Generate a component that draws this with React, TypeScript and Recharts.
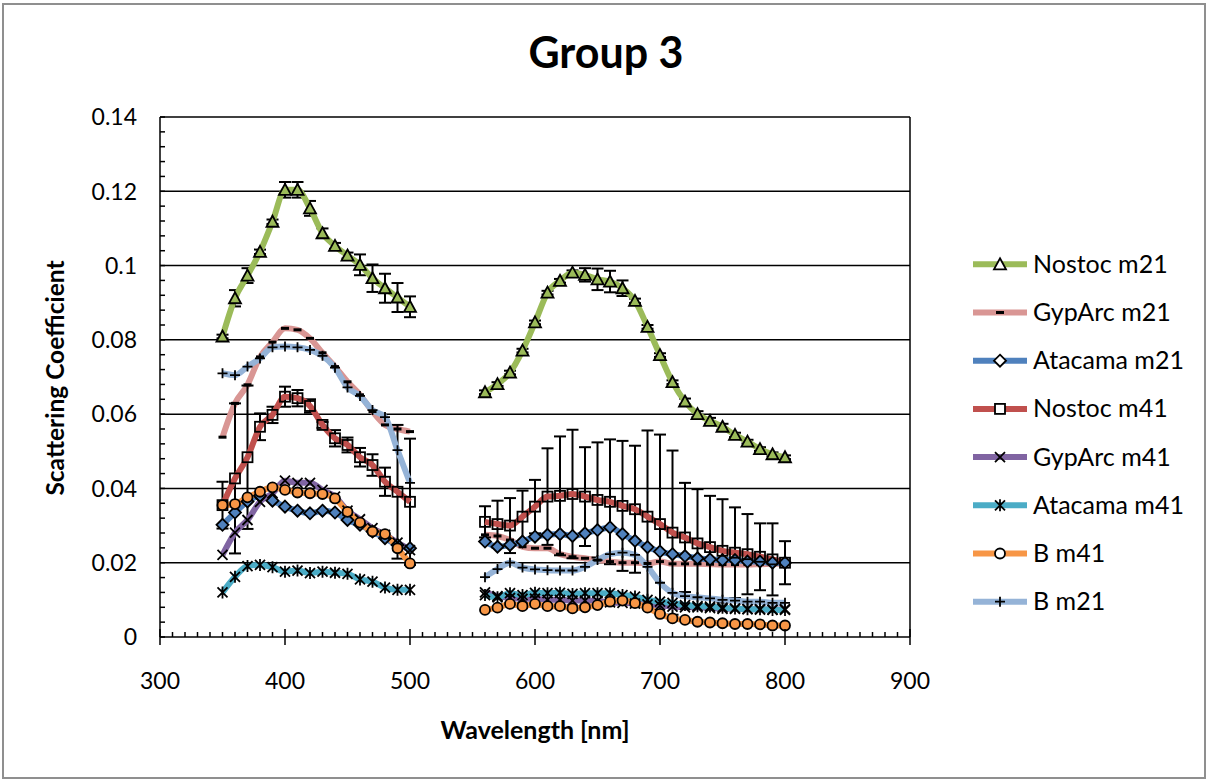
import React from "react";
import { LineChart, Line, XAxis, YAxis, ReferenceLine, ErrorBar } from "recharts";

// wavelengths [nm]; 510-550 have no measurements (gap in the chart)
const wavelengths = [
  350, 360, 370, 380, 390, 400, 410, 420, 430, 440, 450, 460, 470, 480, 490, 500,
  510, 520, 530, 540, 550,
  560, 570, 580, 590, 600, 610, 620, 630, 640, 650, 660, 670, 680, 690, 700,
  710, 720, 730, 740, 750, 760, 770, 780, 790, 800,
];
const GAP = [null, null, null, null, null];

const nostocM21 = [
  0.0809, 0.0912, 0.0973, 0.1037, 0.1118, 0.1204, 0.1204, 0.1154, 0.1087, 0.1053, 0.1027, 0.1002, 0.0966, 0.0939, 0.0914, 0.0889,
  ...GAP,
  0.0659, 0.0681, 0.0712, 0.0771, 0.0847, 0.0927, 0.0959, 0.0981, 0.0975, 0.0963, 0.0957, 0.0939, 0.0905, 0.0835, 0.0759,
  0.0686, 0.0634, 0.06, 0.0582, 0.0566, 0.0544, 0.0526, 0.0506, 0.0492, 0.0484,
];
const nostocM21Err = [
  0.0005, 0.0022, 0.002, 0.0006, 0.0006, 0.0021, 0.0021, 0.002, 0.0013, 0.0008, 0.0008, 0.0028, 0.0037, 0.0039, 0.0039, 0.0028,
  ...GAP,
  0.0005, 0.0005, 0.0005, 0.0005, 0.0005, 0.0005, 0.0005, 0.0006, 0.0018, 0.0029, 0.0029, 0.0021, 0.0006, 0.0005, 0.0005,
  0.0005, 0.0008, 0.0008, 0.0008, 0.0008, 0.0006, 0.0005, 0.0005, 0.0005, 0.0005,
];
const gypArcM21 = [
  0.0538, 0.0629, 0.0679, 0.0754, 0.0794, 0.0831, 0.0827, 0.0804, 0.0765, 0.0728, 0.0687, 0.0652, 0.0607, 0.0571, 0.056, 0.0553,
  ...GAP,
  0.0275, 0.0272, 0.0261, 0.0243, 0.0239, 0.0239, 0.0223, 0.0216, 0.0212, 0.0207, 0.0203, 0.02, 0.02, 0.0198, 0.0203,
  0.0197, 0.0197, 0.0197, 0.0196, 0.0195, 0.0195, 0.0195, 0.0196, 0.0197, 0.0198,
];
const atacamaM21 = [
  0.0302, 0.0335, 0.0365, 0.038, 0.0367, 0.0351, 0.034, 0.0333, 0.034, 0.0335, 0.0315, 0.0302, 0.0284, 0.0266, 0.0248, 0.0239,
  ...GAP,
  0.0257, 0.0243, 0.0248, 0.0257, 0.027, 0.0275, 0.0277, 0.0272, 0.0279, 0.0288, 0.0295, 0.0277, 0.0259, 0.0242, 0.023,
  0.0223, 0.0218, 0.0212, 0.0209, 0.0207, 0.0207, 0.0203, 0.0203, 0.02, 0.02,
];
const nostocM41 = [
  0.0355, 0.0427, 0.0484, 0.0566, 0.0598, 0.0647, 0.0643, 0.0622, 0.0571, 0.0535, 0.0517, 0.0484, 0.0463, 0.0418, 0.0391, 0.0364,
  ...GAP,
  0.031, 0.0304, 0.03, 0.0324, 0.0351, 0.0378, 0.038, 0.0385, 0.0378, 0.0369, 0.0364, 0.0353, 0.0344, 0.0324, 0.0304,
  0.0281, 0.0268, 0.0252, 0.0242, 0.0232, 0.0227, 0.0223, 0.0216, 0.0209, 0.02,
];
const nostocM41Err = [
  0.0063, 0.0202, 0.0193, 0.0036, 0.0022, 0.0027, 0.0022, 0.0018, 0.0008, 0.0022, 0.002, 0.0025, 0.0029, 0.0038, 0.018, 0.017,
  ...GAP,
  0.0042, 0.0063, 0.0074, 0.007, 0.0072, 0.013, 0.016, 0.0173, 0.0133, 0.0155, 0.0168, 0.0175, 0.0171, 0.0232, 0.0241,
  0.0221, 0.0147, 0.0146, 0.0138, 0.0139, 0.0122, 0.0108, 0.009, 0.0097, 0.0058,
];
const gypArcM41 = [
  0.0221, 0.0281, 0.0315, 0.0364, 0.0387, 0.0421, 0.0415, 0.0415, 0.0396, 0.0378, 0.034, 0.0317, 0.0293, 0.0275, 0.0254, 0.0234,
  ...GAP,
  0.012, 0.011, 0.0105, 0.0103, 0.0103, 0.01, 0.01, 0.0098, 0.0098, 0.0097, 0.0093, 0.0092, 0.009, 0.0088, 0.0085,
  0.0082, 0.008, 0.008, 0.0078, 0.0076, 0.0076, 0.0075, 0.0074, 0.0074, 0.0075,
];
const atacamaM41 = [
  0.012, 0.0162, 0.0191, 0.0194, 0.0188, 0.0176, 0.0179, 0.0172, 0.0176, 0.0173, 0.017, 0.0155, 0.0149, 0.0133, 0.0127, 0.0127,
  ...GAP,
  0.0113, 0.0107, 0.0118, 0.0113, 0.0119, 0.0118, 0.0119, 0.0116, 0.0118, 0.0118, 0.0118, 0.0113, 0.0109, 0.01, 0.0095,
  0.0092, 0.0086, 0.0083, 0.0082, 0.0079, 0.0077, 0.0075, 0.0075, 0.0073, 0.0073,
];
const bM41 = [
  0.0355, 0.0358, 0.0376, 0.0391, 0.0403, 0.0396, 0.0389, 0.0387, 0.0385, 0.0373, 0.0337, 0.0308, 0.0284, 0.0277, 0.0239, 0.0198,
  ...GAP,
  0.0073, 0.0079, 0.0089, 0.0083, 0.0089, 0.0083, 0.0083, 0.0077, 0.008, 0.0086, 0.0095, 0.0098, 0.0091, 0.0079, 0.0062,
  0.005, 0.0046, 0.0041, 0.0039, 0.0037, 0.0035, 0.0035, 0.0034, 0.0031, 0.0031,
];
const bM21 = [
  0.071, 0.0705, 0.0728, 0.075, 0.078, 0.0782, 0.078, 0.0773, 0.0757, 0.0725, 0.0672, 0.0649, 0.0611, 0.0592, 0.0503, 0.0415,
  ...GAP,
  0.0161, 0.0183, 0.02, 0.0187, 0.0182, 0.018, 0.0179, 0.0179, 0.0189, 0.0207, 0.0223, 0.0227, 0.0221, 0.0189, 0.0146,
  0.0119, 0.011, 0.0107, 0.0104, 0.01, 0.0098, 0.0095, 0.0095, 0.0092, 0.0092,
];

const xMajorTicks = [300, 400, 500, 600, 700, 800, 900];
const xMinorStep = 10;
const yMajorTicks = [0, 0.02, 0.04, 0.06, 0.08, 0.1, 0.12, 0.14];
const yMinorStep = 0.004;

const FONT = "Lato, 'Open Sans', sans-serif";

type Kind = "triangle" | "dash" | "diamond" | "square" | "x" | "star" | "circle" | "plus";

const series: Array<{
  key: string;
  name: string;
  color: string;
  marker: Kind;
  fill: string;
  values: (number | null)[];
  errors?: (number | null)[];
}> = [
  { key: "nostocM21", name: "Nostoc m21", color: "#9BBB59", marker: "triangle", fill: "#9BBB59", values: nostocM21, errors: nostocM21Err },
  { key: "gypArcM21", name: "GypArc m21", color: "#D99694", marker: "dash", fill: "none", values: gypArcM21 },
  { key: "atacamaM21", name: "Atacama m21", color: "#4F81BD", marker: "diamond", fill: "#4F81BD", values: atacamaM21 },
  { key: "nostocM41", name: "Nostoc m41", color: "#C0504D", marker: "square", fill: "none", values: nostocM41, errors: nostocM41Err },
  { key: "gypArcM41", name: "GypArc m41", color: "#8064A2", marker: "x", fill: "none", values: gypArcM41 },
  { key: "atacamaM41", name: "Atacama m41", color: "#4BACC6", marker: "star", fill: "none", values: atacamaM41 },
  { key: "bM41", name: "B m41", color: "#F79646", marker: "circle", fill: "#F79646", values: bM41 },
  { key: "bM21", name: "B m21", color: "#95B3D7", marker: "plus", fill: "none", values: bM21 },
];

const data = wavelengths.map((wl, i) => {
  const row: Record<string, number | null> = { wl };
  series.forEach((s) => {
    row[s.key] = s.values[i];
    if (s.errors) row[s.key + "Err"] = s.errors[i];
  });
  return row;
});

const xTicks: number[] = [];
for (let v = xMajorTicks[0]; v <= xMajorTicks[xMajorTicks.length - 1]; v += xMinorStep) xTicks.push(v);
const yTicks: number[] = [];
for (let k = 0; k * yMinorStep <= 0.14 + 1e-9; k++) yTicks.push(+(k * yMinorStep).toFixed(3));

function Marker({ kind, cx, cy, fill }: { kind: Kind; cx: number; cy: number; fill: string }) {
  const s = 5;
  const k = "#000";
  const sw = 1.8;
  switch (kind) {
    case "triangle":
      return <polygon points={`${cx},${cy - 6} ${cx + 6},${cy + 5} ${cx - 6},${cy + 5}`} fill={fill} stroke={k} strokeWidth={sw} />;
    case "dash":
      return <rect x={cx - 4} y={cy - 1.5} width={8} height={3} fill={k} />;
    case "diamond":
      return <polygon points={`${cx},${cy - 6} ${cx + 6},${cy} ${cx},${cy + 6} ${cx - 6},${cy}`} fill={fill} stroke={k} strokeWidth={sw} />;
    case "square":
      return <rect x={cx - s} y={cy - s} width={2 * s} height={2 * s} fill={fill} stroke={k} strokeWidth={sw} />;
    case "x":
      return <path d={`M${cx - s},${cy - s}L${cx + s},${cy + s}M${cx - s},${cy + s}L${cx + s},${cy - s}`} stroke={k} strokeWidth={sw} />;
    case "star":
      return (
        <path
          d={`M${cx - s},${cy - s}L${cx + s},${cy + s}M${cx - s},${cy + s}L${cx + s},${cy - s}M${cx},${cy - s - 1}L${cx},${cy + s + 1}`}
          stroke={k}
          strokeWidth={sw}
        />
      );
    case "circle":
      return <circle cx={cx} cy={cy} r={s} fill={fill} stroke={k} strokeWidth={sw} />;
    case "plus":
    default:
      return <path d={`M${cx - s},${cy}L${cx + s},${cy}M${cx},${cy - s}L${cx},${cy + s}`} stroke={k} strokeWidth={sw} />;
  }
}

const renderDot = (kind: Kind, fill: string) => (p: any) => {
  const { cx, cy, index, value } = p;
  if (cx == null || cy == null || value == null || Number.isNaN(cy)) return <g key={`dot-${index}`} />;
  return (
    <g key={`dot-${index}`}>
      <Marker kind={kind} cx={cx} cy={cy} fill={fill} />
    </g>
  );
};

function XTick(props: any) {
  const { x, y, payload } = props;
  const v = payload.value as number;
  const major = xMajorTicks.includes(v);
  return (
    <g>
      {major ? (
        <line x1={x} x2={x} y1={y - 8} y2={y + 8} stroke="#000" strokeWidth={1.5} />
      ) : (
        <line x1={x} x2={x} y1={y - 5} y2={y} stroke="#000" strokeWidth={1.5} />
      )}
      {major && (
        <text x={x} y={y + 52} textAnchor="middle" fontSize={23} fontFamily={FONT} fill="#000">
          {v}
        </text>
      )}
    </g>
  );
}

function YTick(props: any) {
  const { x, y, payload } = props;
  const v = payload.value as number;
  const major = yMajorTicks.includes(v);
  return (
    <g>
      <line x1={x} x2={x + 5} y1={y} y2={y} stroke="#000" strokeWidth={1.5} />
      {major && (
        <text x={x - 23} y={y} dy="0.36em" textAnchor="end" fontSize={23} fontFamily={FONT} fill="#000">
          {String(v)}
        </text>
      )}
    </g>
  );
}

export default function App() {
  return (
    <div style={{ position: "absolute", left: 0, top: 0, width: 1207, height: 780, background: "#fff", fontFamily: FONT }}>
      <LineChart
        width={1207}
        height={780}
        data={data}
        margin={{ top: 117, right: 297, bottom: 93, left: 100 }}
        style={{ position: "absolute", left: 0, top: 0 }}
      >
        <XAxis
          dataKey="wl"
          type="number"
          domain={[300, 900]}
          ticks={xTicks}
          interval={0}
          tickSize={0}
          tickMargin={0}
          tickLine={false}
          tick={<XTick />}
          height={50}
          axisLine={{ stroke: "#000", strokeWidth: 1.5 }}
        />
        <YAxis
          type="number"
          domain={[0, 0.14]}
          allowDataOverflow
          ticks={yTicks}
          interval={0}
          tickSize={0}
          tickMargin={0}
          tickLine={false}
          tick={<YTick />}
          width={60}
          axisLine={{ stroke: "#000", strokeWidth: 1.5 }}
        />
        {yMajorTicks.slice(1).map((v) => (
          <ReferenceLine key={v} y={v} stroke="#000" strokeWidth={1.5} />
        ))}
        <ReferenceLine x={900} stroke="#000" strokeWidth={1.5} />
        {series.map((s) => (
          <Line
            key={s.key}
            dataKey={s.key}
            name={s.name}
            type="monotone"
            stroke={s.color}
            strokeWidth={6}
            dot={renderDot(s.marker, s.fill)}
            activeDot={false}
            isAnimationActive={false}
          >
            {s.errors && (
              <ErrorBar dataKey={s.key + "Err"} direction="y" width={6} strokeWidth={2} stroke="#000" />
            )}
          </Line>
        ))}
      </LineChart>

      <svg width={1207} height={780} style={{ position: "absolute", left: 0, top: 0, pointerEvents: "none" }}>
        <rect x={3} y={4} width={1202} height={774} fill="none" stroke="#8f8f8f" strokeWidth={2} />
        <text x={606} y={68} textAnchor="middle" fontSize={43} fontWeight="bold" fontFamily={FONT} fill="#000">
          Group 3
        </text>
        <text x={535} y={739} textAnchor="middle" fontSize={25} fontWeight="bold" fontFamily={FONT} fill="#000">
          Wavelength [nm]
        </text>
        <text
          transform="translate(64,378) rotate(-90)"
          textAnchor="middle"
          fontSize={24.5}
          fontWeight="bold"
          fontFamily={FONT}
          fill="#000"
        >
          Scattering Coefficient
        </text>
        {series.map((s, i) => {
          const cy = 264.3 + i * 48.2;
          return (
            <g key={s.key}>
              <line x1={973} x2={1027} y1={cy} y2={cy} stroke={s.color} strokeWidth={6} />
              <Marker kind={s.marker} cx={1000} cy={cy} fill={s.marker === "dash" ? "#000" : "#fff"} />
              <text x={1033} y={cy + 8.5} fontSize={25} fontFamily={FONT} fill="#000">
                {s.name}
              </text>
            </g>
          );
        })}
      </svg>
    </div>
  );
}
